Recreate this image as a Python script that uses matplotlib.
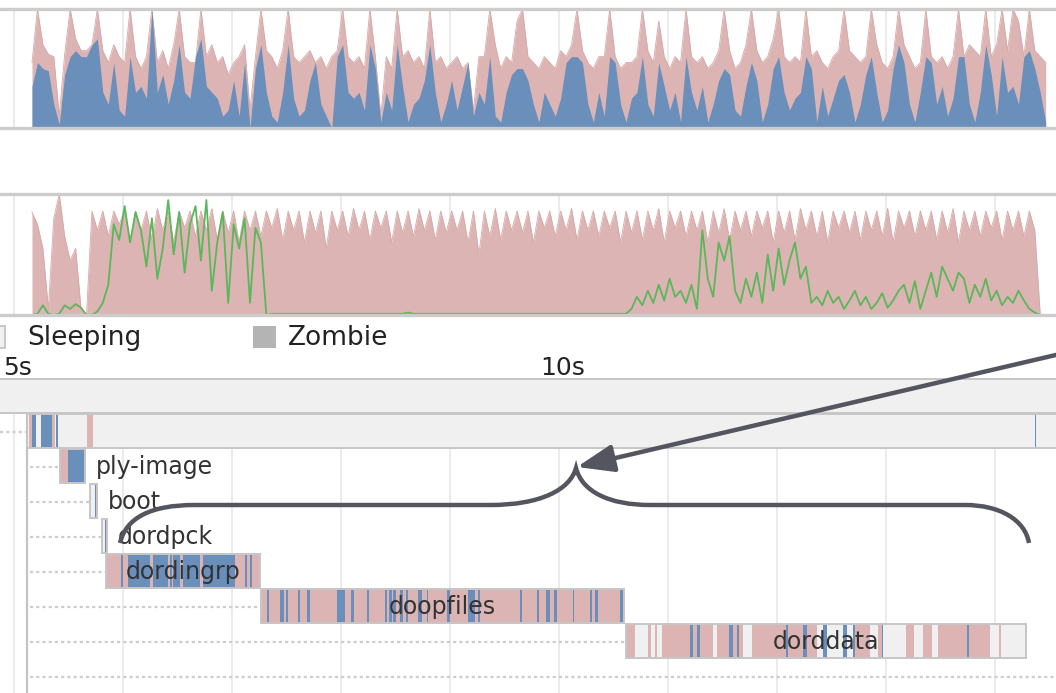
import numpy as np
import matplotlib.pyplot as plt
from matplotlib.patches import Rectangle, FancyArrowPatch, PathPatch
from matplotlib.path import Path

# bootchart logger sample clock (seconds)
sample_start = 5.165
sample_step = 0.05

# cpu chart: total load (pink) and user part (blue), fraction of full scale
cpu_total = [
    0.55, 1.0, 0.7, 0.62, 0.6, 0.1, 0.62, 1.0, 0.75, 0.65,
    0.65, 0.7, 1.0, 0.65, 0.55, 0.7, 0.6, 0.55, 1.0, 0.6,
    0.5, 0.6, 1.0, 0.55, 0.65, 0.5, 0.7, 1.0, 0.6, 0.55,
    0.55, 1.0, 0.6, 0.7, 0.55, 0.6, 0.45, 0.55, 0.6, 0.7,
    0.15, 0.6, 1.0, 0.65, 0.6, 0.5, 0.65, 1.0, 0.6, 0.55,
    0.6, 0.65, 0.55, 0.6, 0.5, 0.6, 0.65, 1.0, 0.6, 0.55,
    0.6, 0.5, 1.0, 0.6, 0.1, 0.6, 0.5, 1.0, 0.6, 0.65,
    0.55, 0.6, 0.5, 1.0, 0.55, 0.6, 0.5, 0.55, 0.6, 0.5,
    0.55, 0.15, 0.6, 0.6, 1.0, 0.7, 0.5, 0.6, 0.55, 0.9,
    1.0, 0.6, 0.55, 0.5, 0.6, 0.55, 0.5, 0.65, 0.6, 0.7,
    1.0, 0.65, 0.55, 0.5, 0.6, 0.6, 1.0, 0.6, 0.5, 0.55,
    0.55, 0.6, 1.0, 0.65, 0.55, 0.9, 0.6, 0.5, 0.6, 0.55,
    1.0, 0.6, 0.55, 0.6, 0.5, 0.55, 0.65, 1.0, 0.65, 0.5,
    0.55, 0.7, 1.0, 0.65, 0.55, 0.6, 0.75, 1.0, 0.6, 0.55,
    0.6, 0.55, 1.0, 0.6, 0.65, 0.55, 0.5, 0.6, 0.65, 1.0,
    0.65, 0.6, 0.55, 0.6, 1.0, 0.7, 0.55, 0.5, 0.6, 1.0,
    0.7, 0.6, 0.5, 0.55, 1.0, 0.6, 0.55, 0.6, 0.5, 0.6,
    1.0, 0.6, 0.7, 0.65, 0.6, 1.0, 0.6, 0.7, 1.0, 0.65,
    1.0, 0.9, 0.6, 1.0, 0.65, 0.6, 0.55,
]
cpu_user = [
    0.35, 0.55, 0.5, 0.48, 0.2, 0.03, 0.45, 0.6, 0.65, 0.6,
    0.6, 0.7, 0.75, 0.3, 0.2, 0.55, 0.15, 0.1, 0.6, 0.3,
    0.35, 0.25, 1.0, 0.3, 0.45, 0.2, 0.4, 0.7, 0.3, 0.25,
    0.6, 0.75, 0.35, 0.3, 0.25, 0.1, 0.15, 0.4, 0.1, 0.55,
    0.0, 0.5, 0.7, 0.3, 0.1, 0.05, 0.3, 0.7, 0.25, 0.1,
    0.15, 0.4, 0.55, 0.2, 0.1, 0.0, 0.6, 0.7, 0.3, 0.25,
    0.3, 0.15, 0.7, 0.5, 0.05, 0.3, 0.15, 0.7, 0.35, 0.05,
    0.2, 0.25, 0.4, 0.7, 0.3, 0.05, 0.2, 0.4, 0.15, 0.35,
    0.55, 0.1, 0.3, 0.2, 0.6, 0.1, 0.05, 0.3, 0.45, 0.5,
    0.5, 0.4, 0.2, 0.05, 0.3, 0.2, 0.1, 0.25, 0.55, 0.6,
    0.6, 0.55, 0.2, 0.05, 0.3, 0.1, 0.6, 0.55, 0.2, 0.05,
    0.25, 0.3, 0.6, 0.2, 0.1, 0.55, 0.35, 0.15, 0.3, 0.05,
    0.6, 0.3, 0.15, 0.35, 0.05, 0.2, 0.4, 0.5, 0.45, 0.15,
    0.1, 0.35, 0.55, 0.4, 0.05, 0.2, 0.5, 0.6, 0.3, 0.15,
    0.25, 0.3, 0.6, 0.5, 0.05, 0.35, 0.1, 0.25, 0.4, 0.45,
    0.3, 0.05, 0.2, 0.45, 0.6, 0.3, 0.05, 0.15, 0.5, 0.7,
    0.55, 0.2, 0.05, 0.3, 0.6, 0.55, 0.2, 0.35, 0.1, 0.25,
    0.6, 0.6, 0.2, 0.05, 0.3, 0.7, 0.45, 0.1, 0.6, 0.3,
    0.35, 0.2, 0.6, 0.65, 0.5, 0.3, 0.05,
]

# disk chart: throughput (pink) and utilisation (green)
disk_tput = [
    0.85, 0.75, 0.55, 0.05, 0.8, 1.0, 0.65, 0.45, 0.55, 0.05,
    0.0, 0.86, 0.7, 0.86, 0.65, 0.86, 0.75, 0.86, 0.6, 0.86,
    0.7, 0.86, 0.62, 0.88, 0.7, 0.86, 0.6, 0.86, 0.72, 0.86,
    0.65, 0.86, 0.7, 0.88, 0.62, 0.86, 0.68, 0.86, 0.6, 0.86,
    0.7, 0.86, 0.65, 0.86, 0.72, 0.88, 0.62, 0.86, 0.7, 0.86,
    0.6, 0.86, 0.68, 0.86, 0.55, 0.86, 0.7, 0.86, 0.65, 0.88,
    0.7, 0.86, 0.62, 0.86, 0.72, 0.86, 0.6, 0.86, 0.68, 0.86,
    0.65, 0.88, 0.7, 0.86, 0.62, 0.86, 0.68, 0.86, 0.7, 0.86,
    0.6, 0.86, 0.5, 0.86, 0.65, 0.88, 0.62, 0.86, 0.7, 0.86,
    0.68, 0.86, 0.6, 0.86, 0.72, 0.86, 0.65, 0.86, 0.7, 0.88,
    0.62, 0.86, 0.7, 0.86, 0.65, 0.86, 0.72, 0.86, 0.6, 0.86,
    0.68, 0.86, 0.62, 0.86, 0.7, 0.88, 0.6, 0.86, 0.72, 0.86,
    0.65, 0.86, 0.7, 0.86, 0.6, 0.86, 0.68, 0.88, 0.62, 0.86,
    0.7, 0.86, 0.65, 0.86, 0.72, 0.86, 0.6, 0.86, 0.68, 0.86,
    0.62, 0.88, 0.7, 0.86, 0.65, 0.86, 0.6, 0.86, 0.72, 0.86,
    0.68, 0.86, 0.62, 0.86, 0.7, 0.86, 0.65, 0.88, 0.6, 0.86,
    0.72, 0.86, 0.65, 0.86, 0.7, 0.86, 0.62, 0.86, 0.68, 0.88,
    0.6, 0.86, 0.7, 0.86, 0.65, 0.86, 0.72, 0.86, 0.62, 0.86,
    0.7, 0.86, 0.65, 0.86, 0.7, 0.0, 0.0,
]
disk_util = [
    0.0, 0.01, 0.08, 0.01, 0.0, 0.01, 0.08, 0.05, 0.09, 0.06,
    0.0, 0.0, 0.03, 0.1, 0.25, 0.75, 0.62, 0.9, 0.6, 0.85,
    0.7, 0.4, 0.8, 0.3, 0.55, 0.95, 0.5, 0.85, 0.35, 0.75,
    0.9, 0.45, 0.95, 0.2, 0.6, 0.85, 0.1, 0.75, 0.55, 0.8,
    0.1, 0.72, 0.6, 0.0, 0.01, 0.01, 0.01, 0.01, 0.01, 0.01,
    0.01, 0.01, 0.01, 0.01, 0.01, 0.01, 0.01, 0.01, 0.01, 0.01,
    0.01, 0.01, 0.01, 0.01, 0.01, 0.01, 0.01, 0.01, 0.01, 0.02,
    0.01, 0.01, 0.01, 0.01, 0.01, 0.01, 0.01, 0.01, 0.01, 0.01,
    0.01, 0.01, 0.01, 0.01, 0.01, 0.01, 0.01, 0.01, 0.01, 0.01,
    0.01, 0.01, 0.01, 0.01, 0.01, 0.01, 0.01, 0.01, 0.01, 0.01,
    0.01, 0.01, 0.01, 0.01, 0.01, 0.01, 0.01, 0.01, 0.01, 0.01,
    0.05, 0.15, 0.08, 0.2, 0.1, 0.25, 0.12, 0.3, 0.15, 0.2,
    0.1, 0.25, 0.05, 0.7, 0.3, 0.15, 0.6, 0.45, 0.65, 0.2,
    0.1, 0.3, 0.15, 0.35, 0.1, 0.5, 0.2, 0.55, 0.25, 0.45,
    0.6, 0.3, 0.4, 0.1, 0.15, 0.08, 0.2, 0.1, 0.15, 0.05,
    0.12, 0.2, 0.08, 0.15, 0.05, 0.1, 0.18, 0.06, 0.12, 0.2,
    0.25, 0.1, 0.28, 0.05, 0.2, 0.35, 0.15, 0.4, 0.3, 0.2,
    0.35, 0.3, 0.1, 0.25, 0.15, 0.3, 0.12, 0.2, 0.08, 0.15,
    0.1, 0.2, 0.12, 0.05, 0.02, 0.0, 0.0,
]

# process tree (times in seconds)
proc_names = ["", "", "ply-image", "boot", "dordpck", "dordingrp", "doopfiles", "dorddata"]
proc_start = [4.6, 5.119, 5.422, 5.697, 5.807, 5.844, 7.266, 10.615]
proc_end = [15.0, 15.0, 5.651, 5.761, 5.853, 7.257, 10.596, 14.284]
proc_pink = [
    [],
    [(5.138, 5.165), (5.349, 5.376), (5.670, 5.725)],
    [(5.422, 5.495)],
    [],
    [],
    [(5.853, 7.257)],
    [(7.266, 10.596)],
    [(10.624, 10.697), (10.817, 10.844), (10.881, 10.899), (10.945, 11.413),
     (11.450, 11.688), (11.771, 12.367), (12.716, 12.853), (12.927, 12.963),
     (13.183, 13.257), (13.339, 13.422), (13.477, 13.954), (14.037, 14.055)],
]
proc_blue = [
    [(5.124, 5.132)],
    [(5.165, 5.202), (5.248, 5.349), (5.385, 5.404), (14.365, 14.375)],
    [(5.495, 5.651)],
    [(5.743, 5.761)],
    [(5.835, 5.853)],
    [(5.982, 6.000), (6.046, 6.248), (6.275, 6.413), (6.431, 6.450), (6.459, 6.523),
     (6.550, 6.706), (6.734, 7.028), (7.119, 7.138), (7.165, 7.183)],
    [(7.321, 7.339), (7.440, 7.477), (7.495, 7.514), (7.606, 7.624), (7.688, 7.716),
     (7.963, 8.037), (8.092, 8.119), (8.239, 8.257), (8.404, 8.422), (8.440, 8.468),
     (8.477, 8.505), (8.541, 8.569), (8.596, 8.615), (8.706, 8.743), (8.789, 8.798),
     (8.972, 9.000), (9.165, 9.229), (9.257, 9.275), (9.642, 9.661), (9.798, 9.817),
     (9.881, 9.917), (9.954, 9.982), (10.128, 10.138), (10.284, 10.303),
     (10.330, 10.358), (10.560, 10.587)],
    [(11.202, 11.229), (11.266, 11.294), (11.560, 11.596), (11.633, 11.651),
     (12.083, 12.101), (12.239, 12.275), (12.422, 12.459), (12.606, 12.642),
     (12.697, 12.716), (12.963, 12.972), (13.743, 13.761)],
]
tick_secs = list(range(5, 15))
tick_labels = {5: "5s", 10: "10s"}

PINK = "#dcb4b4"
BLUE = "#6a8fbb"
GREEN = "#5ab75a"
BOXFILL = "#f0f0f0"
BOXEDGE = "#c6c6c6"
GRID = "#ebebeb"
INK = "#55555f"

W, H = 1056, 693
t_left = 5 - 14 / 109
t_right = 5 + (W - 14) / 109

fig = plt.figure(figsize=(W / 100, H / 100), dpi=100)


def px_axes(x, y, w, h):
    return fig.add_axes([x / W, 1 - (y + h) / H, w / W, h / H])


t = sample_start + sample_step * np.arange(len(cpu_total))

# --- cpu chart
ax1 = px_axes(0, 9, W, 119)
ax1.fill_between(t, 0, cpu_total, color=PINK, lw=0, zorder=2)
ax1.plot(t, cpu_total, color="#d8a8a8", lw=0.6, zorder=2)
ax1.fill_between(t, 0, cpu_user, color=BLUE, lw=0, zorder=3)

# --- disk chart
ax2 = px_axes(0, 194, W, 121)
ax2.fill_between(t, 0, disk_tput, color=PINK, lw=0, zorder=2)
ax2.plot(t, disk_tput, color="#d8a8a8", lw=0.6, zorder=2)
ax2.plot(t, disk_util, color=GREEN, lw=1.3, zorder=3)

for ax in (ax1, ax2):
    ax.set_xlim(t_left, t_right)
    ax.set_ylim(0, 1)
    ax.axis("off")
    for s in tick_secs:
        ax.axvline(s, color=GRID, lw=1.4, zorder=0)
    ax.axhline(0, color="#cccccc", lw=2.4, clip_on=False, zorder=4)
    ax.axhline(1, color="#cccccc", lw=2.4, clip_on=False, zorder=4)

# --- process chart
ax3 = px_axes(0, 378, W, 315)
ax3.set_xlim(t_left, t_right)
ax3.set_ylim(9, 0)
ax3.axis("off")
for s in tick_secs:
    ax3.axvline(s, color=GRID, lw=1.4, zorder=0)
    if s in tick_labels:
        ax3.text(s + 0.03, -0.29, tick_labels[s], ha="center", va="center",
                 fontsize=18, color="#222222", clip_on=False)

tree_t = 5.115
ax3.plot([tree_t, tree_t], [1.0, 9], color="#c4c4c4", lw=1.6, zorder=1)
dot_style = dict(color="#cdcdcd", lw=1.6, linestyle=(0, (1.4, 1.4)), zorder=1)
for i in range(1, len(proc_names)):
    x0 = t_left if i == 1 else tree_t + 0.03
    ax3.plot([x0, proc_start[i]], [i + 0.53, i + 0.53], **dot_style)
ax3.plot([tree_t + 0.03, t_right], [8.53, 8.53], **dot_style)

renderer = fig.canvas.get_renderer()
for i, name in enumerate(proc_names):
    a, b = proc_start[i], proc_end[i]
    y0, hgt = i + 0.03, 0.97
    ax3.add_patch(Rectangle((a, y0), b - a, hgt, fc=BOXFILL, ec="none", zorder=2))
    for s0, s1 in proc_pink[i]:
        ax3.add_patch(Rectangle((s0, y0), s1 - s0, hgt, fc=PINK, ec="none", zorder=3))
    for s0, s1 in proc_blue[i]:
        ax3.add_patch(Rectangle((s0, y0), s1 - s0, hgt, fc=BLUE, ec="none", zorder=3))
    ax3.add_patch(Rectangle((a, y0), b - a, hgt, fc="none", ec=BOXEDGE, lw=1.4, zorder=4))
    if name:
        txt = ax3.text((a + b) / 2, i + 0.53, name, ha="center", va="center",
                       fontsize=17, color="#333333", zorder=5)
        box_px = ax3.transData.transform((b, 0))[0] - ax3.transData.transform((a, 0))[0]
        if txt.get_window_extent(renderer).width + 10 > box_px:
            txt.set_x(b + 0.1)
            txt.set_ha("left")

# --- legend fragment and annotations (pixel space)
ov = fig.add_axes([0, 0, 1, 1], zorder=10)
ov.set_xlim(0, W)
ov.set_ylim(H, 0)
ov.axis("off")
ov.patch.set_alpha(0)
ov.add_patch(Rectangle((-17, 326), 22, 22, fc=BOXFILL, ec="#c0c0c0", lw=1.2))
ov.text(27, 338, "Sleeping", fontsize=19, va="center", color="#222222")
ov.add_patch(Rectangle((253, 326), 23, 22, fc="#b4b4b4", ec="none"))
ov.text(288, 338, "Zombie", fontsize=19, va="center", color="#222222")

arrow = FancyArrowPatch((1075, 350.5), (577, 467),
                        arrowstyle="-|>,head_length=1.6,head_width=0.6",
                        mutation_scale=14, lw=3.2, color=INK,
                        shrinkA=0, shrinkB=0, zorder=11)
ov.add_patch(arrow)

M, C, L = Path.MOVETO, Path.CURVE4, Path.LINETO
brace_pts = [(120, 543), (126, 518), (150, 505), (195, 505),
             (490, 505),
             (540, 505), (570, 490), (576, 468),
             (582, 492), (610, 505), (650, 505),
             (965, 505),
             (1000, 505), (1025, 520), (1029, 543)]
brace_codes = [M, C, C, C, L, C, C, C, C, C, C, L, C, C, C]
ov.add_patch(PathPatch(Path(brace_pts, brace_codes), fc="none", ec=INK,
                       lw=3.2, capstyle="butt", zorder=11))

fig.savefig("out.png", dpi=100)
